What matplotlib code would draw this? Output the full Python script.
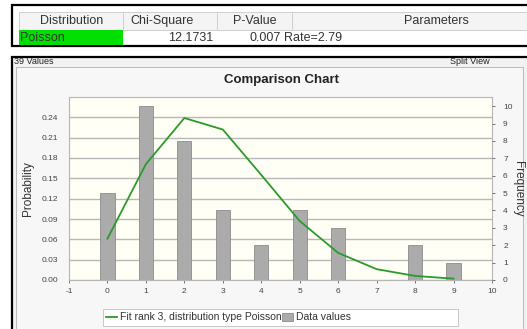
import matplotlib

matplotlib.use("Agg")
import matplotlib.pyplot as plt
from matplotlib.patches import Rectangle
from matplotlib.lines import Line2D

plt.rcParams["font.family"] = ["Liberation Sans", "DejaVu Sans"]
plt.rcParams["axes.unicode_minus"] = False

# fit summary table
table_headers = ["Distribution", "Chi-Square", "P-Value", "Parameters"]
table_row = ["Poisson", "12.1731", "0.007", "Rate=2.79"]

# chart data
counts_x = [0, 1, 2, 3, 4, 5, 6, 7, 8, 9]
frequency = [5, 10, 8, 4, 2, 4, 3, 0, 2, 1]
fit_prob = [0.061, 0.171, 0.239, 0.222, 0.155, 0.087, 0.040, 0.016, 0.006, 0.002]
prob_ticks = [0.00, 0.03, 0.06, 0.09, 0.12, 0.15, 0.18, 0.21, 0.24]
freq_ticks = list(range(0, 11))
x_ticks = list(range(-1, 11))
n_values = 39

W, H = 527, 329
fig = plt.figure(figsize=(W / 100, H / 100), dpi=100)
fig.patch.set_facecolor("white")


def fx(px):
    return px / W


def fy(py):
    return 1 - py / H


def box(x0, y0, x1, y1, z=-5, **kw):
    fig.patches.append(Rectangle((fx(x0), fy(y1)), fx(x1) - fx(x0), fy(y0) - fy(y1),
                                 transform=fig.transFigure, zorder=z, **kw))


def text(px, py, s, **kw):
    fig.text(fx(px), fy(py), s, **kw)


# --- table ---
box(12, 5, 530, 46, facecolor="white", edgecolor="black", lw=1.6)
box(19, 12, 530, 30, facecolor="#f4f4f4", edgecolor="#c8c8c8", lw=0.6, z=-4)
box(19, 30, 123, 45, facecolor="#00e000", edgecolor="none", z=-4)
for xd in [123, 217, 292]:
    fig.add_artist(Line2D([fx(xd), fx(xd)], [fy(13), fy(29)], color="#c8c8c8", lw=0.6))
hdr_kw = dict(fontsize=9, color="#333333", va="center")
text(72, 21, table_headers[0], ha="center", **hdr_kw)
text(130, 21, table_headers[1], ha="left", **hdr_kw)
text(255, 21, table_headers[2], ha="center", **hdr_kw)
text(436, 21, table_headers[3], ha="center", **hdr_kw)
text(20, 38, table_row[0], ha="left", **hdr_kw)
text(213, 38, table_row[1], ha="right", **hdr_kw)
text(281, 38, table_row[2], ha="right", **hdr_kw)
text(284, 38, table_row[3], ha="left", **hdr_kw)

# --- chart panel ---
box(12, 57, 530, 332, facecolor="#f2f2f2", edgecolor="black", lw=1.6)
box(16, 67, 523, 332, facecolor="#f7f7f7", edgecolor="#b0b0b0", lw=0.6, z=-4)
text(14, 62, f"{n_values} Values", fontsize=6.5, color="#222222", va="center")
text(490, 62, "Split View", fontsize=6.5, color="#222222", va="center", ha="right")
text(281, 80, "Comparison Chart", fontsize=9.5, fontweight="bold", color="#222222",
     ha="center", va="center")

ax = fig.add_axes([fx(69), fy(280), fx(492) - fx(69), fy(97) - fy(280)])
ax.set_facecolor("#fffff6")
ax.set_xlim(-1, 10)
ax.set_ylim(0, 0.27)
ax.set_yticks(prob_ticks)
ax.set_yticklabels([f"{t:.2f}" for t in prob_ticks])
ax.set_xticks(x_ticks)
ax.yaxis.grid(True, color="#b8b8b8", lw=1.0)
ax.set_axisbelow(True)
ax.tick_params(labelsize=6, colors="#444444", length=2, width=0.5)
ax.tick_params(axis="y", length=0, pad=8)
ax.set_ylabel("Probability", fontsize=8.5, color="#333333", labelpad=5)
for s in ax.spines.values():
    s.set_color("#b5b5b5")
    s.set_linewidth(0.8)

ax2 = ax.twinx()
ax2.set_ylim(0, 0.27 * n_values)
ax2.set_yticks(freq_ticks)
ax2.bar(counts_x, frequency, width=0.37, color="#ababab", edgecolor="#8c8c8c", lw=0.6)
ax2.plot(counts_x, fit_prob, color="#2a9a2a", lw=1.3, transform=ax.transData)
ax2.tick_params(labelsize=6, colors="#444444", length=2, width=0.5, pad=6)
ax2.set_ylabel("Frequency", fontsize=8.5, color="#333333", rotation=-90, labelpad=8)
for s in ax2.spines.values():
    s.set_visible(False)

# legend box
box(103, 309, 458, 326, facecolor="white", edgecolor="#c0c0c0", lw=0.6, z=-3)
handles = [Line2D([], [], color="#2a9a2a", lw=1.3),
           Rectangle((0, 0), 1, 1, facecolor="#ababab", edgecolor="#8c8c8c", lw=0.6)]
leg = fig.legend(handles, ["Fit rank 3, distribution type Poisson", "Data values"],
                 loc="center left", bbox_to_anchor=(fx(104), fy(317.5)), ncol=2,
                 fontsize=7.5, frameon=False, borderpad=0.2, borderaxespad=0,
                 handlelength=1.0, handleheight=0.9, handletextpad=0.3,
                 columnspacing=0.1)
for t in leg.get_texts():
    t.set_color("#333333")

fig.savefig("out.png", dpi=100)
